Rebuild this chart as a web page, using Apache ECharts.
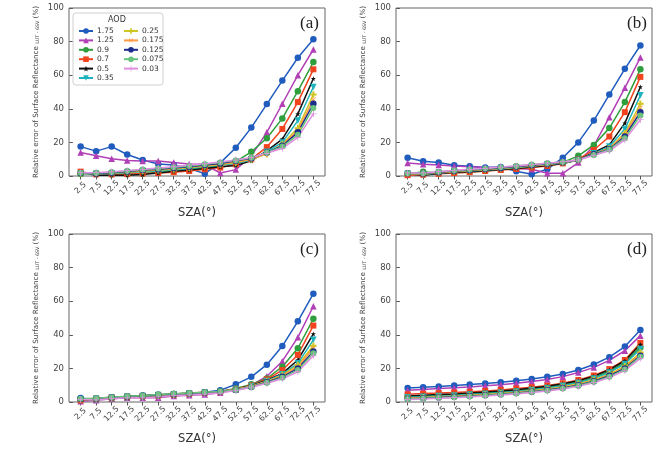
<!DOCTYPE html>
<html lang="en">
<head>
<meta charset="utf-8">
<title>Relative error vs SZA</title>
<style>
* { margin: 0; padding: 0; }
#chart-container { position: relative; width: 655px; height: 450px; overflow: hidden; background: #fff; }
</style>
</head>
<body>
<div id="chart-container"></div>
<script src="https://cdn.jsdelivr.net/npm/echarts@6/dist/echarts.min.js"></script>
<script>
// SZA categories (deg)
const sza = [2.5, 7.5, 12.5, 17.5, 22.5, 27.5, 32.5, 37.5, 42.5, 47.5, 52.5, 57.5, 62.5, 67.5, 72.5, 77.5];
const aod = ['1.75', '1.25', '0.9', '0.7', '0.5', '0.35', '0.25', '0.175', '0.125', '0.075', '0.03'];
const yTicks = [0, 20, 40, 60, 80, 100];
const panelNames = ['(a)', '(b)', '(c)', '(d)'];

// relative error (%) per AOD, one row per AOD in the order above
const errA = [
  [17.5, 14.8, 17.5, 12.8, 9.5, 7.2, 6.5, 4.5, 1.4, 7.8, 16.8, 28.8, 42.8, 56.8, 70.4, 81.4],
  [14, 12, 10.3, 9.2, 8.9, 9, 8, 7.2, 6.8, 1.8, 3.8, 12, 26, 43, 60, 75.3],
  [1.2, 1.8, 1.2, 1.2, 1.5, 2.2, 3, 4, 5, 6.2, 8.5, 14.4, 22.5, 34.3, 50.5, 67.8],
  [2.6, 1, 1, 1.2, 1.5, 1.8, 2.3, 3, 4, 5, 7, 10, 17.2, 28, 44, 63.5],
  [2.2, 0.5, 0.4, 0.5, 0.9, 1.8, 2.8, 3.5, 4.5, 5.5, 6.2, 9, 15, 22, 37, 58],
  [1.5, 1.2, 1.5, 2, 2.5, 3, 3.6, 4.5, 5.5, 6.5, 7.5, 9.5, 14.5, 20, 33, 53],
  [1.5, 1.5, 1.8, 2.3, 3, 3.5, 4, 5, 5.8, 6.8, 8, 10, 13, 19, 28.5, 48.5],
  [1.8, 1.6, 2, 2.5, 3.2, 3.8, 4.5, 5.3, 6.2, 7.2, 8.5, 10, 13.5, 18.5, 27, 45.5],
  [1.8, 1.5, 2, 2.7, 3.5, 4, 4.8, 5.5, 6.5, 7.5, 9, 10.5, 14, 18, 26, 43],
  [2, 1.8, 2.3, 3, 3.8, 4.5, 5.2, 6, 7, 8, 9.3, 10.8, 14, 17.5, 24.5, 40.5],
  [2, 2, 2.5, 3.2, 4, 4.8, 5.5, 6.5, 7.3, 8.3, 9.5, 11, 13.5, 16.5, 23, 37]
];
const errB = [
  [10.8, 8.8, 8, 6.4, 5.8, 5, 5.4, 2.8, 1, 4, 10.9, 20, 33, 48.5, 63.8, 77.7],
  [7.8, 7, 6.6, 5.9, 5.5, 5.1, 5, 4.5, 4, 1.6, 1.6, 8, 18, 35, 52.5, 70.5],
  [1.2, 2.5, 1.6, 2, 2.4, 3, 3.8, 4.6, 5.4, 6.5, 8, 12, 18.5, 28.5, 44, 63.5],
  [0.5, 0.8, 1.3, 1.8, 2.3, 3, 3.6, 4.2, 5, 6, 7.5, 10, 15.5, 23.5, 38, 59],
  [1.3, 0.5, 1.5, 2.2, 2.6, 3.1, 3.8, 4.5, 5.3, 6.2, 7.5, 9.5, 14, 18.5, 31.5, 53],
  [1.3, 1, 1.8, 2.5, 3, 3.5, 4.2, 5, 5.8, 6.8, 7.8, 9.5, 13.5, 17.5, 28, 48],
  [1.5, 1.2, 2, 2.7, 3.3, 3.8, 4.5, 5.3, 6, 7, 8, 9.5, 13, 16.5, 25.5, 43],
  [1.5, 1.4, 2.2, 2.9, 3.5, 4, 4.7, 5.5, 6.3, 7.2, 8.2, 9.5, 13, 16.5, 24.5, 40.5],
  [1.6, 1.5, 2.3, 3, 3.6, 4.2, 4.8, 5.6, 6.4, 7.3, 8.2, 9.6, 13, 16, 23.5, 38],
  [1.7, 1.7, 2.5, 3.3, 3.9, 4.5, 5.2, 6, 6.8, 7.6, 8.4, 9.6, 12.5, 15.8, 22.5, 36],
  [1.8, 1.8, 2.6, 3.4, 4, 4.6, 5.3, 6, 6.8, 7.6, 8.5, 9.5, 12.3, 15, 21.5, 33.5]
];
const errC = [
  [2.4, 1.4, 2.6, 3.1, 3.6, 4.2, 4.7, 5.2, 5.8, 7, 10.5, 15, 22.2, 33.3, 48, 64.5],
  [0.5, 1, 2, 2.5, 2.5, 2.6, 3.5, 4, 4.5, 5.5, 7.5, 10, 15.3, 24.3, 38.5, 57],
  [1, 1.5, 2.3, 2.8, 3.2, 3.7, 4.2, 4.8, 5.4, 6.3, 8, 10.5, 14, 21, 32, 49.5],
  [1, 2, 2.7, 3.2, 3.6, 4, 4.5, 5, 5.6, 6.3, 7.8, 10, 13.5, 19, 28, 45.5],
  [1.5, 1.7, 2.5, 3, 3.5, 4, 4.5, 5, 5.5, 6.2, 7.6, 9.7, 13, 17, 25, 40.5],
  [1.6, 1.9, 2.6, 3.1, 3.6, 4.1, 4.6, 5.1, 5.6, 6.2, 7.5, 9.5, 12.5, 16.5, 23, 37],
  [1.7, 2, 2.7, 3.2, 3.7, 4.2, 4.7, 5.2, 5.7, 6.3, 7.4, 9.3, 12.2, 16, 22, 33.5],
  [1.8, 2.2, 2.8, 3.3, 3.8, 4.3, 4.8, 5.3, 5.8, 6.3, 7.4, 9.2, 12, 15.6, 21, 32],
  [1.8, 2.1, 2.8, 3.3, 3.8, 4.3, 4.8, 5.2, 5.7, 6.2, 7.2, 9, 11.8, 15, 20, 30],
  [1.9, 2.2, 2.9, 3.4, 3.9, 4.4, 4.9, 5.3, 5.8, 6.3, 7.2, 8.9, 11.5, 14.5, 19, 29],
  [1.5, 1.2, 2, 2.5, 2.5, 3, 3.8, 4.2, 4.7, 5.3, 6.8, 8.8, 11.2, 13.8, 18, 27.5]
];
const errD = [
  [8.4, 8.8, 9.2, 9.8, 10.4, 11, 11.8, 12.7, 13.7, 15, 16.7, 19, 22.3, 26.7, 33, 42.8],
  [7, 7.5, 8, 8.5, 9, 9.6, 10.3, 11.2, 12.2, 13.4, 15.1, 17.5, 20.6, 24.8, 30.5, 39.5],
  [3.2, 3.5, 3.9, 4.3, 4.8, 5.4, 6, 6.8, 7.7, 8.8, 10.2, 12, 14.6, 18.3, 23.5, 32.5],
  [4.6, 5, 5.3, 5.7, 6.1, 6.6, 7.2, 8, 8.8, 9.8, 11.2, 13.1, 15.8, 19.6, 25, 35.2],
  [3.6, 4, 4.4, 4.8, 5.3, 5.9, 6.5, 7.3, 8.3, 9.4, 10.8, 12.7, 15.4, 19.2, 24.6, 34.2],
  [2.8, 3.1, 3.5, 3.9, 4.4, 4.9, 5.5, 6.3, 7.2, 8.3, 9.7, 11.5, 14, 17.6, 22.6, 31.5],
  [2.4, 2.7, 3.1, 3.5, 4, 4.5, 5.1, 5.8, 6.7, 7.7, 9, 10.8, 13.2, 16.6, 21.3, 29.5],
  [2.2, 2.5, 2.9, 3.3, 3.7, 4.2, 4.8, 5.5, 6.3, 7.3, 8.6, 10.3, 12.7, 16, 20.6, 28.6],
  [2, 2.3, 2.7, 3.1, 3.5, 4, 4.6, 5.3, 6.1, 7.1, 8.4, 10, 12.4, 15.6, 20, 27.5],
  [1.8, 2.1, 2.5, 2.9, 3.3, 3.8, 4.4, 5.1, 5.9, 6.9, 8.1, 9.7, 12, 15.1, 19.4, 27],
  [1.5, 1.8, 2.2, 2.6, 3, 3.5, 4.1, 4.8, 5.6, 6.5, 7.7, 9.3, 11.5, 14.5, 18.7, 26]
];
const panels = [errA, errB, errC, errD];

// styling
const colors = ['#1f5cbd', '#b13fb6', '#2f9e3c', '#f2431f', '#111111', '#1fb3bd',
                '#cfc523', '#ff9a45', '#1b2d8c', '#68c47c', '#e08ee0'];
const PLUS = 'path://M3.5,0H6.5V3.5H10V6.5H6.5V10H3.5V6.5H0V3.5H3.5Z';
const THINPLUS = 'path://M4.4,0H5.6V4.4H10V5.6H5.6V10H4.4V5.6H0V4.4H4.4Z';
const STAR = 'path://M5,0L6.2,3.5L10,3.6L7,6L8.1,9.6L5,7.5L1.9,9.6L3,6L0,3.6L3.8,3.5Z';
const symbols = ['circle', 'triangle', 'circle', 'rect', STAR, 'triangle',
                 PLUS, THINPLUS, 'circle', 'circle', THINPLUS];
const symRot = [0, 0, 0, 0, 0, 180, 0, 45, 0, 0, 0];
const symSize = [6.5, 6.5, 6.5, 6, 5, 6.5, 6.5, 6.5, 6.5, 6, 6.5];

const boxes = [
  { left: 69, top: 8 },
  { left: 396, top: 8 },
  { left: 69, top: 234 },
  { left: 396, top: 234 }
];
const W = 256, H = 168;
const txt = '#444';
const FONT = 'DejaVu Sans';

var dom = document.getElementById('chart-container');
var myChart = echarts.init(dom, null, { renderer: 'canvas' });

const grid = [], xAxis = [], yAxis = [], series = [], title = [];
boxes.forEach(function (b, gi) {
  grid.push({
    left: b.left, top: b.top, width: W, height: H,
    show: true, borderColor: '#666', borderWidth: 1, backgroundColor: '#fff'
  });
  xAxis.push({
    type: 'value', gridIndex: gi, min: -1.25, max: 81.25,
    name: 'SZA(°)', nameLocation: 'middle', nameGap: 31,
    nameTextStyle: { fontFamily: FONT, fontSize: 11.5, color: '#333' },
    axisLine: { show: false },
    axisTick: { show: true, length: 3.5, customValues: sza, lineStyle: { color: '#555' } },
    axisLabel: {
      customValues: sza, rotate: 45, align: 'center', verticalAlign: 'middle', margin: 12,
      fontFamily: FONT, fontSize: 8, color: txt,
      formatter: function (v) { return String(v); }
    },
    splitLine: { show: false }
  });
  yAxis.push({
    type: 'value', gridIndex: gi, min: 0, max: 100, interval: 20,
    name: 'Relative error of Surface Reflectance {sub|LUT - 6SV} (%)',
    nameLocation: 'middle', nameGap: 29, nameRotate: 90,
    nameTextStyle: {
      fontFamily: FONT, fontSize: 7.2, color: '#444',
      rich: { sub: { fontFamily: FONT, fontSize: 4.8, color: '#444', verticalAlign: 'bottom' } }
    },
    axisLine: { show: false },
    axisTick: { show: true, length: 3.5, lineStyle: { color: '#555' } },
    axisLabel: { fontFamily: FONT, fontSize: 8.5, color: txt, margin: 5 },
    splitLine: { show: false }
  });
  title.push({
    text: panelNames[gi], left: b.left + 231, top: b.top + 7, padding: 0,
    textStyle: { fontFamily: 'Liberation Serif', fontSize: 17, fontWeight: 'normal', color: '#222' }
  });
  panels[gi].forEach(function (vals, si) {
    series.push({
      name: aod[si], type: 'line', xAxisIndex: gi, yAxisIndex: gi,
      data: sza.map(function (x, i) { return [x, vals[i]]; }),
      symbol: symbols[si], symbolSize: symSize[si], symbolRotate: symRot[si],
      showAllSymbol: true,
      lineStyle: { width: 1.5, color: colors[si] },
      itemStyle: { color: colors[si] },
      emphasis: { disabled: true },
      animation: false
    });
  });
});

const legendBase = {
  orient: 'vertical', padding: 0, itemWidth: 14, itemHeight: 7, itemGap: 1.4,
  textStyle: { fontFamily: FONT, fontSize: 7.5, color: '#333', padding: [0, 0, 0, -1] },
  selectedMode: false
};

var option = {
  backgroundColor: '#fff',
  animation: false,
  title: title,
  grid: grid,
  xAxis: xAxis,
  yAxis: yAxis,
  legend: [
    Object.assign({ left: 78, top: 27, data: aod.slice(0, 6) }, legendBase),
    Object.assign({ left: 123, top: 27, data: aod.slice(6) }, legendBase)
  ],
  graphic: [
    {
      type: 'rect', z: 3,
      shape: { x: 73, y: 13, width: 90, height: 72, r: 3 },
      style: { fill: 'rgba(255,255,255,0.85)', stroke: '#d0d0d0', lineWidth: 1 }
    },
    {
      type: 'text', z: 4, left: 108, top: 16,
      style: { text: 'AOD', font: '8px "DejaVu Sans"', fill: '#333' }
    }
  ],
  series: series
};

if (option && typeof option === 'object') {
  myChart.setOption(option);
}

window.addEventListener('resize', myChart.resize);
</script>
</body>
</html>
